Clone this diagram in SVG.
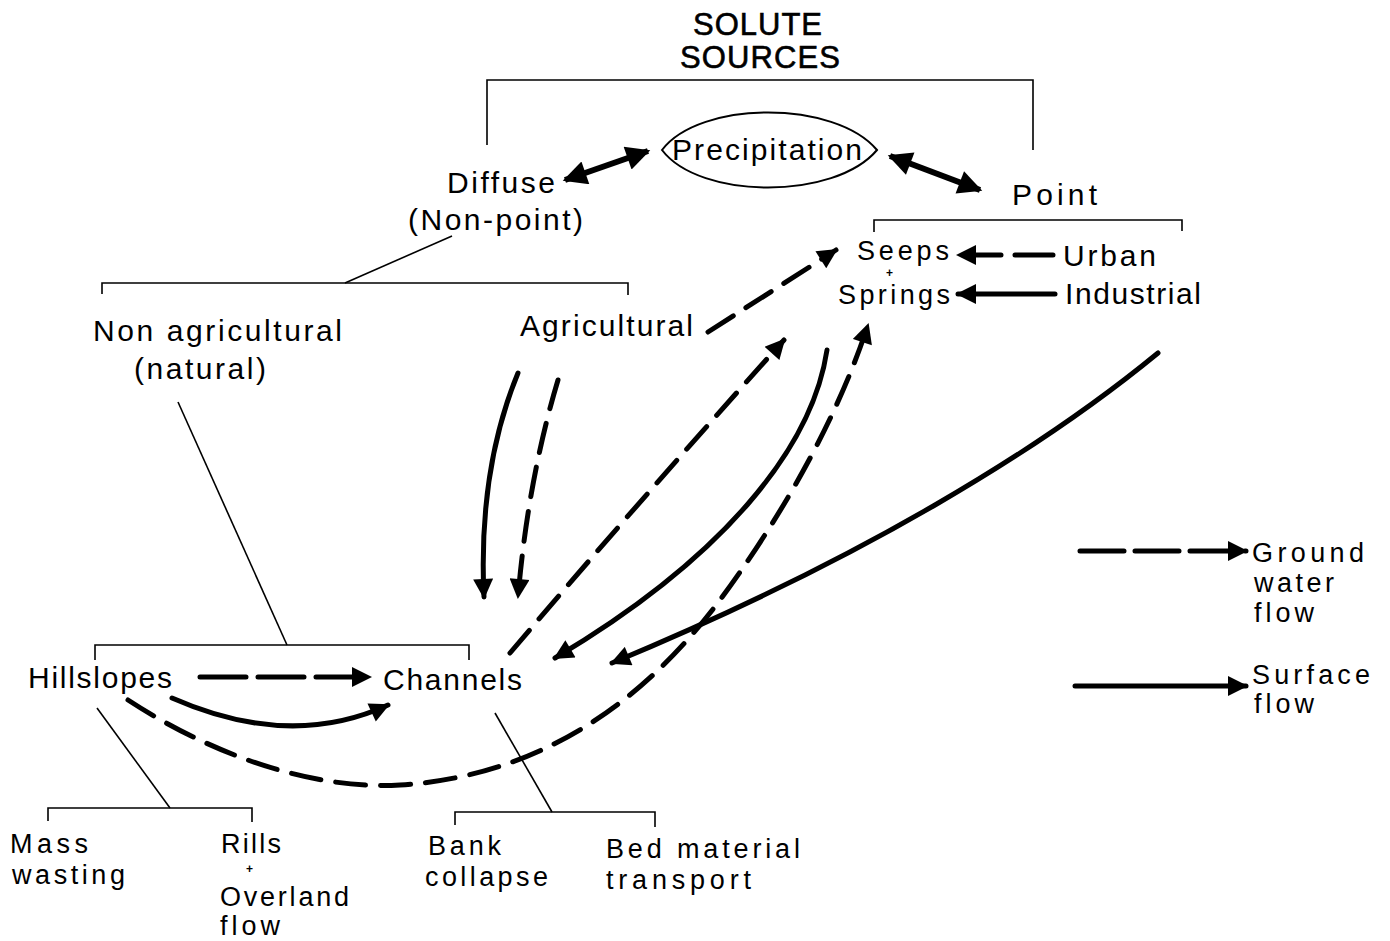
<svg xmlns="http://www.w3.org/2000/svg" width="1390" height="941" viewBox="0 0 1390 941">
<style>
.t{font-family:"Liberation Sans",Arial,sans-serif;font-size:30px;fill:#000}
.s{font-size:27px}
.h{font-size:31px;stroke:#000;stroke-width:0.6}
.p{font-size:12px;font-weight:bold}
.br{fill:none;stroke:#000;stroke-width:1.6}
.sf{fill:none;stroke:#000;stroke-width:5;stroke-linecap:round}
.gw{fill:none;stroke:#000;stroke-width:5;stroke-linecap:round;stroke-dasharray:30 15}
.dbl{fill:none;stroke:#000;stroke-width:6}
</style>
<defs>
<marker id="ah" viewBox="0 0 10 10" refX="9" refY="5" markerWidth="4.6" markerHeight="4" orient="auto-start-reverse" markerUnits="strokeWidth">
<path d="M0,0 L10,5 L0,10 z" fill="#000"/>
</marker>
</defs>
<rect width="1390" height="941" fill="#fff"/>

<g id="title">
<text class="t h" x="693" y="35" textLength="129" lengthAdjust="spacing">SOLUTE</text>
<text class="t h" x="680" y="68" textLength="160" lengthAdjust="spacing">SOURCES</text>
</g>

<g id="brackets">
<path class="br" d="M487,145 V80 H1033 V150"/>
<path class="br" d="M102,294 V283 H628 V295"/>
<path class="br" d="M452,236 L345,283"/>
<path class="br" d="M178,402 L287,645"/>
<path class="br" d="M95,660 V645 H469 V660"/>
<path class="br" d="M874,232 V220 H1182 V231"/>
<path class="br" d="M97,708 L170,808"/>
<path class="br" d="M48,821 V808 H252 V822"/>
<path class="br" d="M495,713 L552,812"/>
<path class="br" d="M455,825 V812 H655 V827"/>
</g>

<g id="precipitation">
<path d="M662,150 C700,100 835,100 877,150 C835,200 700,200 662,150 Z" fill="none" stroke="#000" stroke-width="2"/>
<text class="t" x="672" y="160" textLength="190" lengthAdjust="spacing">Precipitation</text>
</g>

<g id="diffuse">
<text class="t" x="447" y="193" textLength="108" lengthAdjust="spacing">Diffuse</text>
<text class="t" x="408" y="230" textLength="175" lengthAdjust="spacing">(Non-point)</text>
</g>

<g id="point">
<text class="t" x="1012" y="205" textLength="85" lengthAdjust="spacing">Point</text>
</g>

<g id="seeps">
<text class="t s" x="857" y="260" textLength="92" lengthAdjust="spacing">Seeps</text>
<text class="t p" x="886" y="277">+</text>
<text class="t s" x="838" y="304" textLength="112" lengthAdjust="spacing">Springs</text>
</g>

<g id="urban">
<text class="t" x="1063" y="266" textLength="93" lengthAdjust="spacing">Urban</text>
</g>
<g id="industrial">
<text class="t" x="1065" y="304" textLength="136" lengthAdjust="spacing">Industrial</text>
</g>

<g id="nonagricultural">
<text class="t" x="93" y="341" textLength="249" lengthAdjust="spacing">Non agricultural</text>
<text class="t" x="134" y="379" textLength="132" lengthAdjust="spacing">(natural)</text>
</g>

<g id="agricultural">
<text class="t" x="520" y="336" textLength="173" lengthAdjust="spacing">Agricultural</text>
</g>

<g id="hillslopes">
<text class="t" x="28" y="688" textLength="144" lengthAdjust="spacing">Hillslopes</text>
</g>
<g id="channels">
<text class="t" x="383" y="690" textLength="139" lengthAdjust="spacing">Channels</text>
</g>

<g id="masswasting">
<text class="t s" x="10" y="853" textLength="78" lengthAdjust="spacing">Mass</text>
<text class="t s" x="12" y="884" textLength="113" lengthAdjust="spacing">wasting</text>
</g>
<g id="rills">
<text class="t s" x="221" y="853" textLength="60" lengthAdjust="spacing">Rills</text>
<text class="t p" x="246" y="873">+</text>
<text class="t s" x="220" y="906" textLength="129" lengthAdjust="spacing">Overland</text>
<text class="t s" x="220" y="935" textLength="60" lengthAdjust="spacing">flow</text>
</g>
<g id="bankcollapse">
<text class="t s" x="428" y="855" textLength="73" lengthAdjust="spacing">Bank</text>
<text class="t s" x="425" y="886" textLength="123" lengthAdjust="spacing">collapse</text>
</g>
<g id="bedmaterial">
<text class="t s" x="606" y="858" textLength="194" lengthAdjust="spacing">Bed material</text>
<text class="t s" x="606" y="889" textLength="145" lengthAdjust="spacing">transport</text>
</g>

<g id="legend">
<path class="gw" style="stroke-dasharray:44 11" d="M1080,551 L1246,551" marker-end="url(#ah)"/>
<text class="t s" x="1252" y="562" textLength="112" lengthAdjust="spacing">Ground</text>
<text class="t s" x="1254" y="592" textLength="80" lengthAdjust="spacing">water</text>
<text class="t s" x="1254" y="622" textLength="60" lengthAdjust="spacing">flow</text>
<path class="sf" d="M1075,686 L1246,686" marker-end="url(#ah)"/>
<text class="t s" x="1252" y="684" textLength="118" lengthAdjust="spacing">Surface</text>
<text class="t s" x="1254" y="713" textLength="60" lengthAdjust="spacing">flow</text>
</g>

<g id="connectors">
<path class="dbl" d="M565,180 L648,151" marker-start="url(#ah)" marker-end="url(#ah)"/>
<path class="dbl" d="M890,156 L980,190" marker-start="url(#ah)" marker-end="url(#ah)"/>
<path class="gw" style="stroke-dasharray:38 14" d="M1053,255 L958,255" marker-end="url(#ah)"/>
<path class="sf" d="M1055,294 L958,294" marker-end="url(#ah)"/>
<path class="gw" d="M708,332 L836,250" marker-end="url(#ah)"/>
<path class="sf" d="M518,373 Q478,470 484,597" marker-end="url(#ah)"/>
<path class="gw" d="M558,380 Q528,480 518,597" marker-end="url(#ah)"/>
<path class="gw" d="M510,653 Q640,500 784,340" marker-end="url(#ah)"/>
<path class="sf" d="M827,350 C812,450 720,560 555,658" marker-end="url(#ah)"/>
<path class="sf" d="M1158,353 C1040,450 860,560 612,663" marker-end="url(#ah)"/>
<path class="gw" d="M128,700 C220,760 320,790 400,785 C560,775 660,680 720,600 C790,505 840,410 868,325" marker-end="url(#ah)"/>
<path class="sf" d="M172,698 Q290,750 388,705" marker-end="url(#ah)"/>
<path class="gw" style="stroke-dasharray:46 12" d="M200,677 L370,677" marker-end="url(#ah)"/>
</g>
</svg>
